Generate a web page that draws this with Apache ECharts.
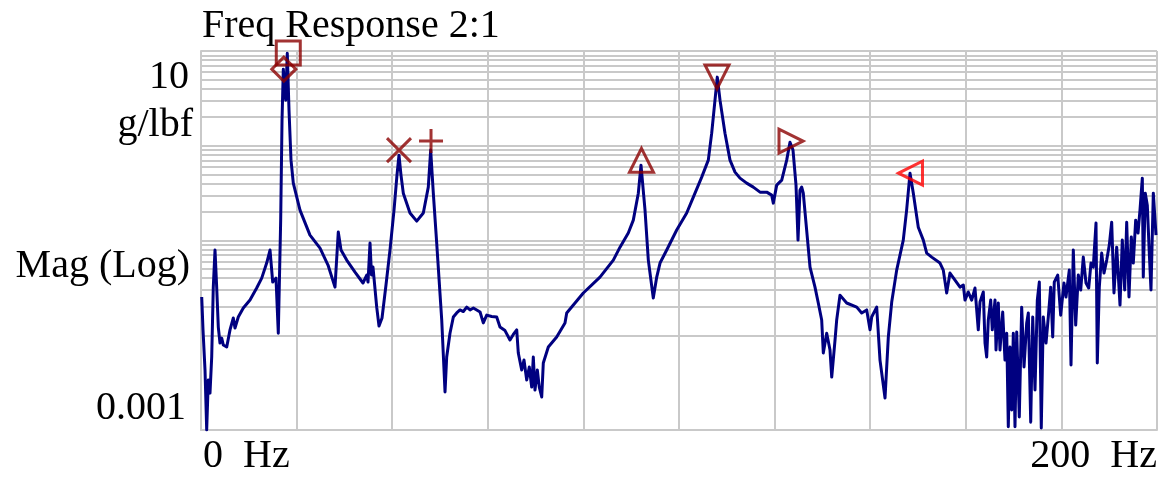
<!DOCTYPE html>
<html>
<head>
<meta charset="utf-8">
<script src="https://cdn.jsdelivr.net/npm/echarts@6/dist/echarts.min.js"></script>
<style>
  html, body { margin: 0; padding: 0; background: #ffffff; }
  #chart { width: 1168px; height: 477px; }
</style>
</head>
<body>
<div id="chart"></div>
<script>
// Frequency response 2:1 — magnitude (g/lbf) versus frequency (Hz)
const freqHz = [
  0.15, 0.42, 0.84, 1.19, 1.53, 1.88, 2.24, 2.57, 2.93, 3.28,
  3.62, 3.97, 4.33, 4.67, 5.38, 6.07, 6.76, 7.11, 7.80, 8.85,
  10.25, 11.65, 12.70, 13.74, 14.44, 15.00, 15.69, 16.17, 16.67, 16.95,
  17.22, 17.72, 18.05, 18.41, 18.83, 19.31, 20.71, 22.80, 24.90, 26.57,
  28.03, 28.72, 29.29, 30.48, 32.22, 33.89, 34.67, 34.94, 35.36, 35.67,
  35.98, 36.76, 37.24, 37.87, 38.70, 39.54, 40.38, 41.00, 41.42, 41.84,
  42.32, 43.72, 45.13, 46.51, 47.55, 48.05, 48.60, 49.31, 50.36, 51.05,
  51.40, 52.09, 52.79, 53.49, 54.18, 54.88, 55.59, 56.28, 56.98, 57.68,
  58.38, 58.72, 59.06, 59.77, 60.81, 61.86, 62.55, 63.60, 64.64, 65.34,
  66.05, 66.38, 67.09, 67.57, 68.14, 68.68, 69.18, 69.52, 69.87, 70.36,
  70.77, 71.28, 71.61, 71.97, 72.66, 74.41, 76.15, 76.51, 79.98, 83.47,
  86.26, 87.66, 89.39, 90.44, 91.49, 92.05, 92.89, 93.58, 94.62, 95.34,
  96.03, 97.43, 99.52, 101.61, 103.00, 104.75, 106.13, 106.84, 107.53, 108.01,
  108.58, 109.62, 110.67, 111.72, 112.76, 114.16, 115.54, 116.95, 118.35, 119.39,
  119.73, 120.44, 121.49, 122.53, 123.22, 123.85, 124.48, 124.90, 125.31, 125.67,
  126.00, 127.41, 128.45, 129.14, 129.85, 130.19, 130.90, 131.59, 131.95, 132.64,
  132.99, 133.68, 135.08, 137.18, 138.22, 139.27, 139.96, 140.31, 141.36, 142.05,
  143.10, 143.79, 144.50, 145.54, 146.92, 147.62, 148.33, 149.02, 150.06, 151.11,
  151.82, 152.87, 154.60, 155.29, 156.00, 156.69, 158.79, 159.48, 159.83, 160.52,
  161.23, 161.92, 162.28, 162.61, 162.97, 163.66, 164.02, 164.37, 164.71, 165.21,
  165.54, 166.11, 166.32, 166.80, 167.15, 167.72, 168.20, 168.56, 168.89, 169.25,
  169.60, 169.94, 170.29, 170.65, 171.19, 171.69, 172.18, 172.74, 173.08, 173.58,
  174.00, 174.48, 174.96, 175.38, 175.79, 176.21, 176.78, 177.26, 177.76, 178.18,
  178.51, 179.23, 179.85, 180.54, 180.96, 181.65, 182.01, 182.49, 182.99, 183.54,
  184.04, 184.58, 185.15, 185.71, 186.19, 186.67, 187.24, 187.51, 187.93, 188.43,
  188.91, 189.48, 190.02, 190.52, 191.00, 191.57, 192.26, 192.74, 193.24, 193.66,
  194.14, 194.62, 195.04, 195.54, 196.03, 196.44, 196.93, 197.13, 197.55, 197.97,
  198.39, 198.74, 199.23, 199.79
];
const magGlbf = [
  0.0253, 0.0114, 0.0043, 0.001, 0.00337, 0.00245, 0.00589, 0.0322, 0.0793, 0.0322,
  0.0122, 0.00828, 0.00933, 0.00788, 0.00751, 0.0114, 0.0152, 0.0119, 0.0156, 0.0194,
  0.0235, 0.0315, 0.0401, 0.0578, 0.0793, 0.0364, 0.0401, 0.0105, 0.164, 1.862,
  6.43, 3.03, 9.48, 2.38, 0.705, 0.403, 0.209, 0.114, 0.0832, 0.0551,
  0.0322, 0.123, 0.0793, 0.0621, 0.0464, 0.0356, 0.0432, 0.0364, 0.094, 0.0432,
  0.0524, 0.0198, 0.0125, 0.0152, 0.0339, 0.0793, 0.209, 0.490, 0.796, 0.490,
  0.316, 0.195, 0.160, 0.195, 0.366, 0.90, 0.316, 0.094, 0.0145, 0.00252,
  0.00589, 0.0105, 0.0156, 0.0172, 0.0185, 0.0178, 0.0198, 0.0185, 0.0194, 0.0185,
  0.0176, 0.0172, 0.0135, 0.0163, 0.0158, 0.0156, 0.0122, 0.0112, 0.0089, 0.0102,
  0.0114, 0.00649, 0.0043, 0.00547, 0.00337, 0.00462, 0.00284, 0.00589, 0.00264, 0.0043,
  0.00284, 0.00223, 0.00509, 0.00509, 0.00751, 0.00957, 0.0135, 0.0172, 0.0279, 0.0411,
  0.0621, 0.0851, 0.120, 0.164, 0.316, 0.624, 0.209, 0.0621, 0.0247, 0.0411,
  0.0578, 0.0793, 0.129, 0.195, 0.287, 0.467, 0.705, 1.358, 3.03, 5.30,
  3.03, 1.358, 0.705, 0.527, 0.455, 0.403, 0.366, 0.324, 0.324, 0.301,
  0.248, 0.384, 0.434, 0.705, 1.09, 0.90, 0.384, 0.101, 0.340, 0.366,
  0.316, 0.0524, 0.0322, 0.0219, 0.0145, 0.00649, 0.0105, 0.00698, 0.00362, 0.0089,
  0.0145, 0.0265, 0.0219, 0.0198, 0.0172, 0.0185, 0.0114, 0.0156, 0.0198, 0.00547,
  0.00218, 0.00957, 0.0224, 0.0487, 0.101, 0.209, 0.514, 0.316, 0.138, 0.101,
  0.0736, 0.0668, 0.0578, 0.0487, 0.0279, 0.0453, 0.0322, 0.0339, 0.0235, 0.0286,
  0.0235, 0.0315, 0.0185, 0.0114, 0.0224, 0.0286, 0.00828, 0.00589, 0.0145, 0.0235,
  0.0114, 0.0235, 0.00698, 0.0219, 0.00698, 0.0176, 0.00547, 0.0105, 0.00108, 0.00751,
  0.00163, 0.0105, 0.00108, 0.0108, 0.00137, 0.0198, 0.00462, 0.0135, 0.0172, 0.00121,
  0.0156, 0.00264, 0.0235, 0.0364, 0.00105, 0.0156, 0.00828, 0.0156, 0.0322, 0.00957,
  0.0364, 0.0432, 0.0163, 0.0356, 0.0253, 0.0487, 0.00485, 0.0793, 0.0128, 0.0432,
  0.030, 0.0668, 0.0356, 0.0315, 0.0578, 0.0524, 0.153, 0.00509, 0.0322, 0.0736,
  0.0453, 0.0621, 0.0894, 0.156, 0.0279, 0.0851, 0.0208, 0.101, 0.030, 0.156,
  0.0253, 0.109, 0.0578, 0.164, 0.120, 0.209, 0.455, 0.0411, 0.316, 0.236,
  0.0736, 0.030, 0.316, 0.114
];

// Peak-pick cursors
const markerFreq  = [18.26, 17.32, 41.42, 48.12, 92.15, 107.95, 123.43, 148.43];
const markerMag   = [9.5, 6.43, 0.90, 1.12, 0.702, 5.33, 1.12, 0.514];
const markerShape = ['square', 'diamond', 'cross', 'plus', 'up', 'down', 'right', 'left'];
const markerColor = ['#8b0000', '#8b0000', '#8b0000', '#8b0000', '#8b0000', '#8b0000', '#8b0000', '#ff0000'];

// Axis range and labels
const xRange = [0, 200];
const yRange = [0.001, 10];
const xTickLabels = ['0  Hz', '200  Hz'];
const yTickLabels = ['10', '0.001'];
const titleText = 'Freq Response 2:1';
const unitText = 'g/lbf';
const yAxisText = 'Mag (Log)';

const symbolFor = {
  square:  { symbol: 'rect', rotate: 0 },
  diamond: { symbol: 'diamond', rotate: 0 },
  cross:   { symbol: 'path://M0,0L10,10M10,0L0,10', rotate: 0 },
  plus:    { symbol: 'path://M5,0L5,10M0,5L10,5', rotate: 0 },
  up:      { symbol: 'triangle', rotate: 0 },
  down:    { symbol: 'triangle', rotate: 180 },
  right:   { symbol: 'triangle', rotate: -90 },
  left:    { symbol: 'triangle', rotate: 90 }
};

const curve = freqHz.map((f, i) => [f, magGlbf[i]]);

// Minor log grid lines (2..9 within each decade)
const minorLines = [];
for (let e = -3; e < 1; e++) {
  for (let k = 2; k <= 9; k++) {
    minorLines.push({ yAxis: k * Math.pow(10, e) });
  }
}

const markerSeries = markerFreq.map((f, i) => {
  const s = symbolFor[markerShape[i]];
  return {
    type: 'scatter',
    z: 4,
    silent: true,
    symbol: s.symbol,
    symbolRotate: s.rotate,
    symbolSize: 24,
    itemStyle: { color: 'rgba(0,0,0,0)', borderColor: markerColor[i], borderWidth: 3 },
    data: [[f, markerMag[i]]]
  };
});

const gridColor = '#c9c9c9';
const serif = 'Liberation Serif, Times New Roman, serif';

const chart = echarts.init(document.getElementById('chart'), null, { renderer: 'canvas' });
chart.setOption({
  animation: false,
  backgroundColor: '#ffffff',
  grid: { left: 201, right: 11, top: 51, bottom: 47 },
  xAxis: {
    type: 'value', min: xRange[0], max: xRange[1], interval: 20,
    axisLine: { show: true, lineStyle: { color: gridColor, width: 2 } },
    axisTick: { show: false },
    axisLabel: { show: false },
    splitLine: { show: true, lineStyle: { color: gridColor, width: 2 } }
  },
  yAxis: {
    type: 'log', logBase: 10, min: yRange[0], max: yRange[1],
    axisLine: { show: true, lineStyle: { color: gridColor, width: 2 } },
    axisTick: { show: false },
    axisLabel: { show: false },
    splitLine: { show: true, lineStyle: { color: gridColor, width: 2 } }
  },
  series: [
    {
      type: 'line', z: 1, silent: true, data: [],
      markLine: {
        silent: true, symbol: 'none', z: 1, animation: false,
        label: { show: false },
        lineStyle: { color: gridColor, width: 2, type: 'solid' },
        data: minorLines
      }
    },
    {
      type: 'line', z: 3, silent: true,
      showSymbol: false, symbol: 'none', sampling: 'none',
      lineStyle: { color: '#000080', width: 3, join: 'round' },
      data: curve
    }
  ].concat(markerSeries),
  graphic: [
    { type: 'text', left: 202, top: 6, style: { text: titleText, font: '40px ' + serif, fill: '#000' } },
    { type: 'text', right: 1168 - 189, top: 57, style: { text: yTickLabels[0], font: '40px ' + serif, fill: '#000', textAlign: 'right' } },
    { type: 'text', right: 1168 - 193, top: 105, style: { text: unitText, font: '40px ' + serif, fill: '#000', textAlign: 'right' } },
    { type: 'text', right: 1168 - 190, top: 246, style: { text: yAxisText, font: '40px ' + serif, fill: '#000', textAlign: 'right' } },
    { type: 'text', right: 1168 - 186, top: 388, style: { text: yTickLabels[1], font: '40px ' + serif, fill: '#000', textAlign: 'right' } },
    { type: 'text', left: 203, top: 436, style: { text: xTickLabels[0], font: '40px ' + serif, fill: '#000' } },
    { type: 'text', right: 11, top: 436, style: { text: xTickLabels[1], font: '40px ' + serif, fill: '#000', textAlign: 'right' } }
  ]
});
</script>
</body>
</html>
